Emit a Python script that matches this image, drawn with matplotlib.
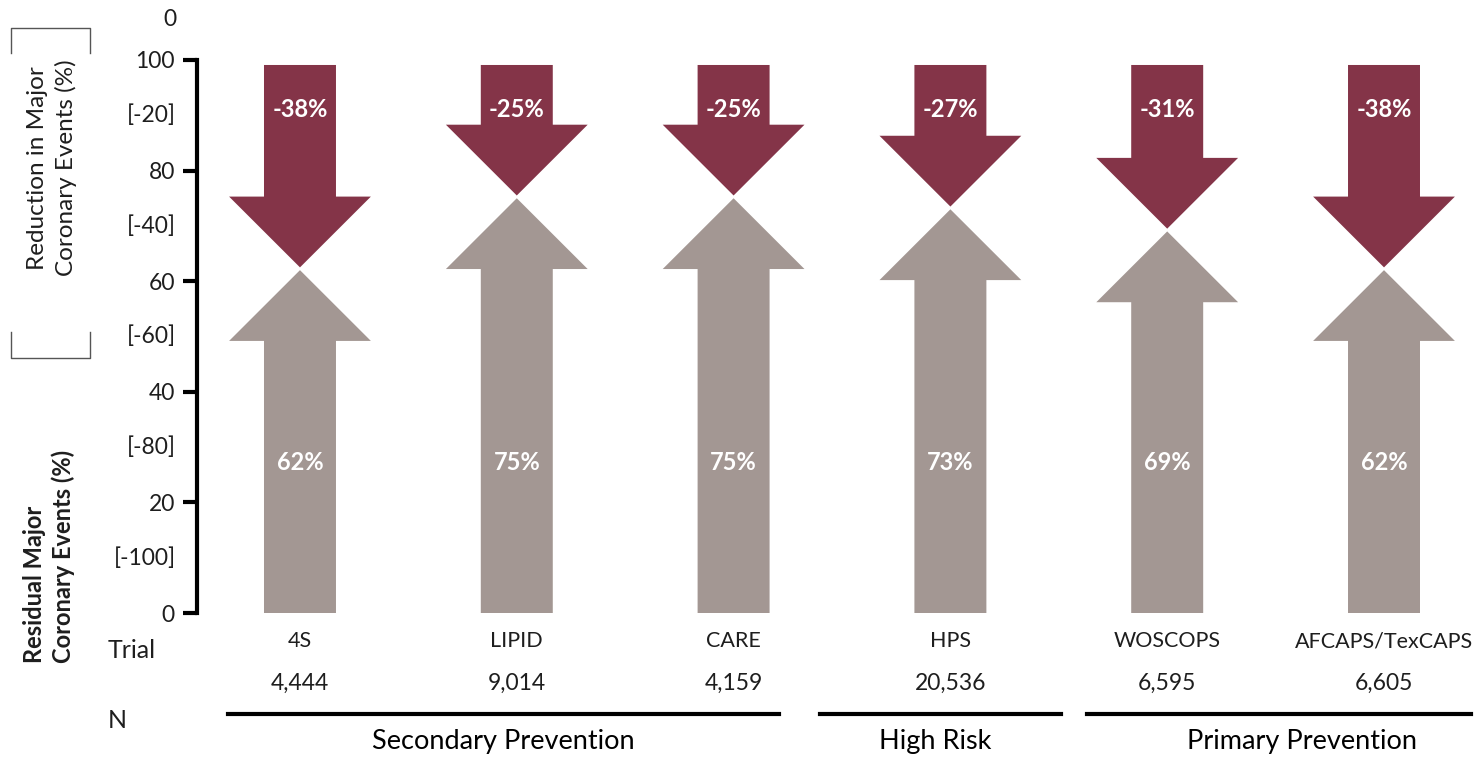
import matplotlib.pyplot as plt
from matplotlib.patches import Polygon
from matplotlib.lines import Line2D
from matplotlib.transforms import blended_transform_factory

plt.rcParams["font.family"] = ["Lato", "DejaVu Sans"]

# statin trials: residual events and relative reduction (%)
trials = ["4S", "LIPID", "CARE", "HPS", "WOSCOPS", "AFCAPS/TexCAPS"]
n_patients = ["4,444", "9,014", "4,159", "20,536", "6,595", "6,605"]
residual = [62, 75, 75, 73, 69, 62]
reduction = [-38, -25, -25, -27, -31, -38]

# groups: (label, first x, last x, label x)
groups = [
    ("Secondary Prevention", -0.33, 2.21, 0.94),
    ("High Risk", 2.40, 3.51, 2.93),
    ("Primary Prevention", 3.63, 5.40, 4.62),
]

y_ticks = [0, 20, 40, 60, 80, 100]
reduction_ticks = [(90, "[-20]"), (70, "[-40]"), (50, "[-60]"), (30, "[-80]"), (10, "[-100]")]

RED = "#843448"
GREY = "#A39793"
DARK = "#1e1e1e"

W, H = 1482, 757


def fx(px):
    return px / W


def fy(py):
    return 1 - py / H


fig = plt.figure(figsize=(W / 100, H / 100), dpi=100)
ax = fig.add_axes([fx(197), fy(613), 1 - fx(197), fy(60) - fy(613)])
ax.set_xlim(-0.475, 5.452)
ax.set_ylim(0, 100)

for side in ["top", "right", "bottom"]:
    ax.spines[side].set_visible(False)
ax.spines["left"].set_linewidth(3)
ax.spines["left"].set_bounds(0, 100)
ax.set_xticks([])
ax.set_yticks(y_ticks)
ax.tick_params(axis="y", length=10, width=3, pad=6, labelsize=16.5, labelcolor=DARK)

# arrow geometry (x in trial units, y in %)
half_shaft = 0.166
half_head = 0.327
head_len = 12.8
top = 99.1
gap = 0.5

for i, (res, red) in enumerate(zip(residual, reduction)):
    c = i
    up = [(c - half_shaft, 0), (c + half_shaft, 0), (c + half_shaft, res - head_len),
          (c + half_head, res - head_len), (c, res), (c - half_head, res - head_len),
          (c - half_shaft, res - head_len)]
    ax.add_patch(Polygon(up, closed=True, facecolor=GREY, edgecolor="none"))

    tip = 100 + red + gap
    down = [(c - half_shaft, top), (c + half_shaft, top), (c + half_shaft, tip + head_len),
            (c + half_head, tip + head_len), (c, tip), (c - half_head, tip + head_len),
            (c - half_shaft, tip + head_len)]
    ax.add_patch(Polygon(down, closed=True, facecolor=RED, edgecolor="none"))

    ax.text(c, 91, f"{red}%", color="white", fontsize=17, fontweight="bold",
            ha="center", va="center")
    ax.text(c, 27.2, f"{res}%", color="white", fontsize=17, fontweight="bold",
            ha="center", va="center")

# secondary scale: reduction values between the main ticks
for y, lab in reduction_ticks:
    ax.text(fx(176), y, lab, transform=blended_transform_factory(fig.transFigure, ax.transData),
            ha="right", va="center", fontsize=16.5, color=DARK)
fig.text(fx(176), fy(20), "0", ha="right", va="center", fontsize=16.5, color=DARK)

# bracket around the reduction label
for xs, ys in [([11, 11, 90, 90], [53, 28, 28, 53]), ([11, 11, 90, 90], [332, 358, 358, 332])]:
    fig.add_artist(Line2D([fx(v) for v in xs], [fy(v) for v in ys], color="#555555", lw=1))

fig.text(fx(52), fy(168), "Reduction in Major\nCoronary Events (%)", rotation=90,
         ha="center", va="center", fontsize=17.5, color=DARK, multialignment="center",
         linespacing=1.4)
fig.text(fx(49), fy(663), "Residual Major\nCoronary Events (%)", rotation=90,
         ha="center", va="bottom", fontsize=17, fontweight="bold", color=DARK,
         multialignment="left", linespacing=1.25)

# trial names and sizes under the arrows
bt = blended_transform_factory(ax.transData, fig.transFigure)
for i, (name, n) in enumerate(zip(trials, n_patients)):
    ax.text(i, fy(641), name, transform=bt, ha="center", va="center", fontsize=15.5,
            color=DARK)
    ax.text(i, fy(683), n, transform=bt, ha="center", va="center", fontsize=16.5,
            color=DARK)

fig.text(fx(108), fy(650), "Trial", ha="left", va="center", fontsize=18, color=DARK)
fig.text(fx(108), fy(720), "N", ha="left", va="center", fontsize=18, color=DARK)

for label, x0, x1, xl in groups:
    ax.add_artist(Line2D([x0, x1], [fy(714), fy(714)], transform=bt, color="black",
                         lw=3, clip_on=False))
    ax.text(xl, fy(741), label, transform=bt, ha="center", va="center", fontsize=19.5,
            color="black")

fig.savefig("out.png", dpi=100)
